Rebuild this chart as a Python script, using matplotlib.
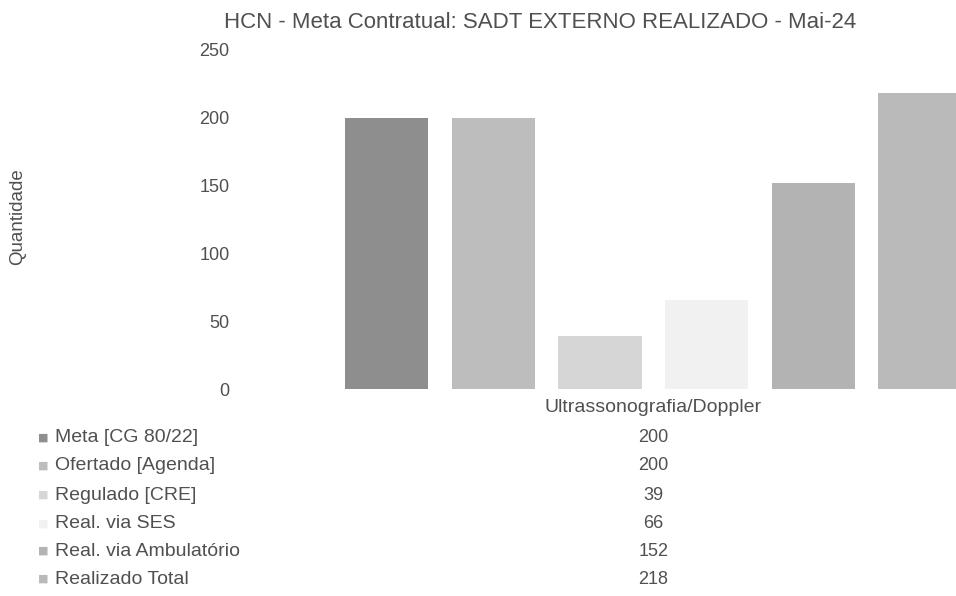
import numpy as np
import matplotlib
matplotlib.use('Agg')
import matplotlib.pyplot as plt
from matplotlib.transforms import blended_transform_factory

plt.rcParams['font.family'] = ['Liberation Sans', 'DejaVu Sans']

# dados do grafico
title = 'HCN - Meta Contratual: SADT EXTERNO REALIZADO - Mai-24'
category = 'Ultrassonografia/Doppler'
series = ['Meta [CG 80/22]', 'Ofertado [Agenda]', 'Regulado [CRE]',
          'Real. via SES', 'Real. via Ambulatório', 'Realizado Total']
values = [200, 200, 39, 66, 152, 218]
yticks = [0, 50, 100, 150, 200, 250]

# tons de cinza (imagem escaneada)
colors = ['#8e8e8e', '#bdbdbd', '#d6d6d6', '#f1f1f1', '#b3b3b3', '#bababa']
text_color = '#505050'

W, H = 956, 596
fig = plt.figure(figsize=(W / 100, H / 100), dpi=100)

# area do grafico (parte direita cortada como no original)
left, right, bottom, top = 245, 956, 389, 50
ax = fig.add_axes([left / W, 1 - bottom / H, (right - left) / W, (bottom - top) / H])

x = np.arange(len(values))
ax.bar(x, values, width=0.78, color=colors, edgecolor='none')

ax.set_xlim(-1.33, 5.34)
ax.set_ylim(0, 250)
ax.set_yticks(yticks)
ax.set_yticklabels([str(t) for t in yticks], fontsize=13, color=text_color)
ax.tick_params(axis='y', length=0, pad=11)
ax.set_xticks([])
for s in ax.spines.values():
    s.set_visible(False)

fig.text(18 / W, 1 - 217 / H, 'Quantidade', rotation=90, fontsize=13.5,
         color=text_color, ha='center', va='center')
fig.text(540 / W, 1 - 23 / H, title, fontsize=16, color=text_color,
         ha='center', va='center')

# tabela de dados abaixo do grafico
trans = blended_transform_factory(ax.transData, fig.transFigure)
xc = x.mean()
ax.text(xc, 1 - 408 / H, category, transform=trans, fontsize=14,
        color=text_color, ha='center', va='center')

row_y = [438, 466, 495, 524, 551, 579]
for name, val, col, ry in zip(series, values, colors, row_y):
    yf = 1 - ry / H
    fig.text(38 / W, yf, '■', fontsize=8, color=col, ha='left', va='center',
             family=['DejaVu Sans'])
    fig.text(55 / W, yf, name, fontsize=14, color=text_color,
             ha='left', va='center')
    ax.text(xc, yf, str(val), transform=trans, fontsize=13,
            color=text_color, ha='center', va='center')

fig.savefig('out.png', dpi=100)
